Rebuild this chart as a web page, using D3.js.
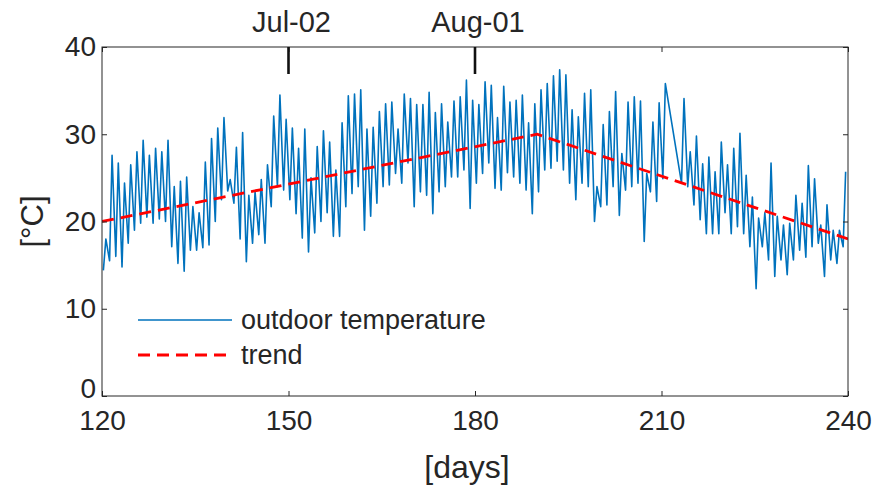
<!DOCTYPE html>
<html>
<head>
<meta charset="utf-8">
<script src="https://cdn.jsdelivr.net/npm/d3@7"></script>
<style>
  html, body { margin: 0; padding: 0; background: #fff; }
  svg { display: block; }
  text { font-family: "Liberation Sans", Arial, sans-serif; fill: #262626; }
</style>
</head>
<body>
<svg id="chart" width="887" height="493"></svg>
<script>
// ---- data ----
const days = d3.range(120, 240); // day index 120..239
// daily maximum temperature [°C] (null = missing)
const dailyMax = [
  18.0, 27.6, 26.7, 24.4, 26.5, 28.0, 29.3, 27.6, 28.4, 28.0,
  29.3, 24.0, 24.6, 25.1, 21.7, 21.0, 26.8, 29.5, 30.7, 31.9,
  24.8, 28.5, 30.2, 23.0, 23.4, 24.8, 26.5, 32.1, 34.5, 31.7,
  30.7, 28.4, 30.6, 25.0, 28.6, 30.4, 29.1, 25.9, 31.3, 34.4,
  34.6, 35.1, 30.6, 30.8, 32.6, 33.5, 33.7, 30.6, 34.6, 34.1,
  33.4, 33.4, 34.8, 32.5, 33.5, 31.4, 33.8, 34.3, 36.2, 33.9,
  33.4, 36.0, 35.6, 31.9, 35.5, 33.7, 33.9, 34.5, 31.3, 33.5,
  35.1, 35.8, 36.7, 37.4, 36.8, 32.8, 32.0, 34.7, 35.1, 24.0,
  31.1, 32.6, 34.9, 27.8, 33.7, 34.3, 33.8, 25.5, 31.4, 33.6,
  35.8, null, null, 34.1, 28.0, 29.8, 26.6, 27.4, 25.7, 29.1,
  26.5, 28.4, 30.1, 25.3, 22.8, 20.4, 21.0, 26.7, 20.6, 19.6,
  19.8, 23.0, 22.1, 26.4, 24.9, 19.6, 21.9, 19.0, 19.0, 25.7
];
// daily minimum temperature [°C] (null = missing)
const dailyMin = [
  14.4, 15.5, 16.0, 14.8, 17.5, 19.0, 19.8, 20.5, 19.8, 20.3,
  20.0, 17.1, 15.2, 14.3, 16.7, 16.7, 17.0, 17.3, 20.0, 22.5,
  23.5, 22.1, 18.0, 15.4, 17.5, 18.5, 17.5, 21.7, 24.0, 23.6,
  22.5, 20.9, 18.1, 16.5, 18.7, 20.0, 21.0, 18.3, 18.3, 21.7,
  23.2, 24.0, 19.0, 20.6, 22.1, 24.0, 24.2, 25.5, 24.4, 26.7,
  21.7, 23.4, 23.0, 20.9, 23.4, 24.0, 25.1, 25.1, 25.9, 21.5,
  24.4, 25.5, 26.7, 23.8, 23.6, 25.6, 25.1, 24.4, 23.6, 20.9,
  23.4, 25.9, 26.1, 26.9, 25.9, 24.4, 22.5, 24.4, 24.0, 20.0,
  21.7, 21.9, 24.0, 20.7, 23.6, 24.0, 24.4, 17.7, 23.4, 22.3,
  24.9, null, null, 24.4, 24.0, 21.9, 20.2, 18.6, 18.6, 18.6,
  21.0, 18.6, 19.4, 18.6, 17.1, 12.3, 17.1, 15.6, 13.7, 15.6,
  13.9, 15.6, 16.7, 15.9, 17.1, 17.5, 13.7, 15.6, 15.2, 17.1
];
// trend (piecewise linear)
const trendDays = [120, 190, 240];
const trendValues = [20, 30, 18];
// axis ticks and labels
const xTicks = [120, 150, 180, 210, 240];
const yTicks = [0, 10, 20, 30, 40];
const markerDays = [150, 180];
const markerLabels = ["Jul-02", "Aug-01"];
const xLabel = "[days]";
const yLabel = "[°C]";
const seriesNames = ["outdoor temperature", "trend"];

// ---- build ----
const svg = d3.select("#chart");
const L = 102, R = 848, T = 47, B = 396;
const x = d3.scaleLinear().domain([120, 240]).range([L, R]);
const y = d3.scaleLinear().domain([0, 40]).range([B, T]);
const axisColor = "#262626";
const blue = "#0072BD";

// series points: daily min early in the day, max in the afternoon
const pts = [];
days.forEach((d, i) => {
  if (dailyMin[i] != null) pts.push([d + 0.22, dailyMin[i]]);
  if (dailyMax[i] != null) pts.push([d + 0.62, dailyMax[i]]);
});

svg.append("defs").append("clipPath").attr("id", "clip")
  .append("rect").attr("x", L).attr("y", T).attr("width", R - L).attr("height", B - T);

const line = d3.line().x(p => x(p[0])).y(p => y(p[1]));

svg.append("path")
  .datum(pts)
  .attr("clip-path", "url(#clip)")
  .attr("fill", "none")
  .attr("stroke", blue)
  .attr("stroke-width", 1.6)
  .attr("stroke-linejoin", "round")
  .attr("d", line);

const trendPts = trendDays.map((d, i) => [d, trendValues[i]]);
svg.append("path")
  .datum(trendPts)
  .attr("clip-path", "url(#clip)")
  .attr("fill", "none")
  .attr("stroke", "#FF0000")
  .attr("stroke-width", 2.8)
  .attr("stroke-dasharray", "12,7")
  .attr("d", line);

// axes (ticks inward, MATLAB-like box)
const fs = 28;
const gx = svg.append("g").attr("transform", `translate(0,${B})`)
  .call(d3.axisBottom(x).tickValues(xTicks).tickSize(-5).tickPadding(14).tickFormat(d3.format("d")));
const gxt = svg.append("g").attr("transform", `translate(0,${T})`)
  .call(d3.axisTop(x).tickValues(xTicks).tickSize(-5).tickFormat(""));
const gy = svg.append("g").attr("transform", `translate(${L},0)`)
  .call(d3.axisLeft(y).tickValues(yTicks).tickSize(-5).tickPadding(6).tickFormat(d3.format("d")));
const gyr = svg.append("g").attr("transform", `translate(${R},0)`)
  .call(d3.axisRight(y).tickValues(yTicks).tickSize(-5).tickFormat(""));
[gx, gxt, gy, gyr].forEach(g => {
  g.select(".domain").remove();
  g.selectAll("line").attr("stroke", axisColor);
  g.selectAll("text").attr("font-size", fs).attr("font-family", "'Liberation Sans', Arial, sans-serif").attr("fill", axisColor);
});
// keep "0" clear of "120"
gy.selectAll(".tick").filter(d => d === 0).select("text").attr("dy", "0.05em");
svg.append("rect").attr("x", L).attr("y", T).attr("width", R - L).attr("height", B - T)
  .attr("fill", "none").attr("stroke", axisColor).attr("stroke-width", 1);

// axis titles
svg.append("text").attr("x", (L + R) / 2 - 8).attr("y", 478).attr("text-anchor", "middle")
  .attr("font-size", 32).text(xLabel);
svg.append("text").attr("transform", `translate(43,${(T + B) / 2}) rotate(-90)`)
  .attr("text-anchor", "middle").attr("font-size", 31).text(yLabel);

// date markers
markerDays.forEach((d, i) => {
  svg.append("line").attr("x1", x(d)).attr("x2", x(d)).attr("y1", T).attr("y2", T + 27)
    .attr("stroke", "#111").attr("stroke-width", 2.6);
  svg.append("text").attr("x", x(d) + 3).attr("y", 32).attr("text-anchor", "middle")
    .attr("font-size", 29).attr("fill", "#111").text(markerLabels[i]);
});

// legend
const lg = svg.append("g");
lg.append("line").attr("x1", 138).attr("x2", 232).attr("y1", 320).attr("y2", 320)
  .attr("stroke", blue).attr("stroke-width", 1.6);
lg.append("text").attr("x", 241).attr("y", 320).attr("dy", "0.35em").attr("font-size", 27).text(seriesNames[0]);
lg.append("line").attr("x1", 138).attr("x2", 232).attr("y1", 355).attr("y2", 355)
  .attr("stroke", "#FF0000").attr("stroke-width", 2.8).attr("stroke-dasharray", "12,7");
lg.append("text").attr("x", 241).attr("y", 355).attr("dy", "0.35em").attr("font-size", 27).text(seriesNames[1]);
</script>
</body>
</html>
